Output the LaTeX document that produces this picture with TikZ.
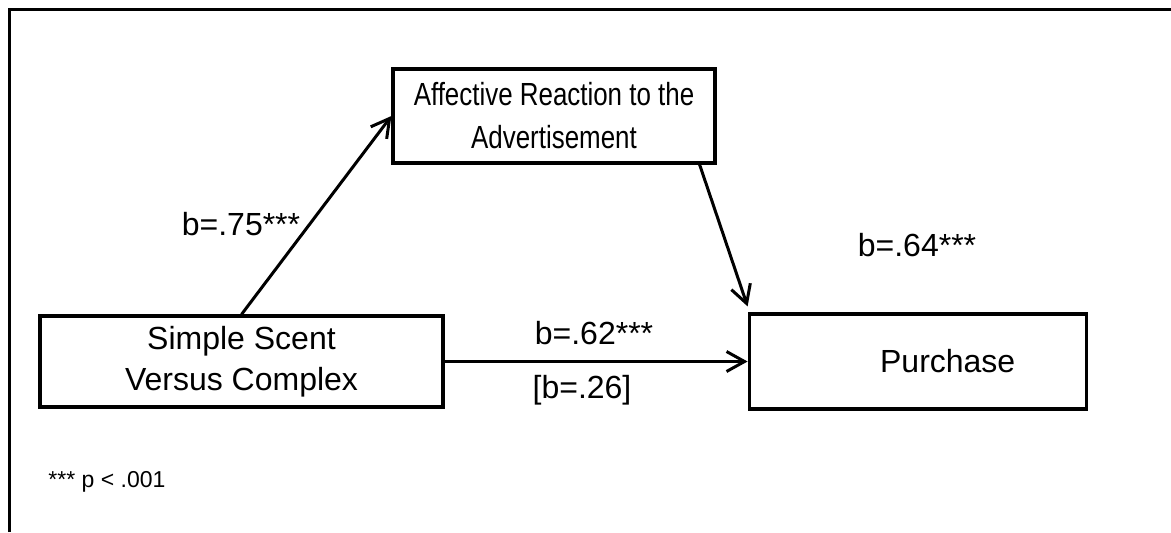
\documentclass[tikz,border=0pt]{standalone}
\usepackage{fontspec}
\usepackage{graphicx}
\setmainfont{Liberation Sans}
\usetikzlibrary{arrows.meta, positioning}
\tikzset{
    box/.style={rectangle, draw=black, line width=1.6pt, align=center, font=\fontsize{16}{20.5}\selectfont},
    coef/.style={inner sep=0pt, font=\fontsize{16}{19}\selectfont},
    note/.style={inner sep=0pt, font=\fontsize{11.5}{13}\selectfont},
    arrow/.style={line width=1.5pt, -{Straight Barb[length=9pt, width=10pt]}}
}
\newcommand{\narrow}[1]{\scalebox{0.81}[1]{#1}}

\begin{document}
\begin{tikzpicture}[x=0.5pt, y=-0.5pt]
    \useasboundingbox (0,0) rectangle (1171,532);
    % frame
    \draw[line width=1.5pt] (9.5,532) |- (1171,9.5);

    % Boxes
    \node (simple) [box, minimum width=201.5pt, minimum height=45.5pt] at (241.5,361.5) {Simple Scent\\Versus Complex};
    \node (purchase) [box, minimum width=168.5pt, minimum height=47.5pt, right=151.5pt of simple] {\hspace*{30pt}Purchase};
    \node (affect) [box, inner sep=2pt, minimum width=161pt, minimum height=47pt, font=\fontsize{16}{21.5}\selectfont] at (554,116) {\narrow{Affective Reaction to the}\\\narrow{Advertisement}};

    \draw [arrow] (simple.north) -- (affect.west);
    \draw [arrow] ([xshift=-8.5pt]affect.south east) -- ([yshift=3pt]purchase.north west);
    \draw [arrow] (simple.east) -- (purchase.west);

    % Coefficients
    \node (bA) [coef, anchor=base] at (241,235) {b=.75***};
    \node (bB) [coef, anchor=base] at (917,256) {b=.64***};
    \node (bC) [coef, anchor=base] at (594,344) {b=.62***};
    \node (bD) [coef, anchor=base] at (582,398) {[b=.26]};

    \node (sig) [note, anchor=base west] at (48,487) {*** p < .001};
\end{tikzpicture}
\end{document}
